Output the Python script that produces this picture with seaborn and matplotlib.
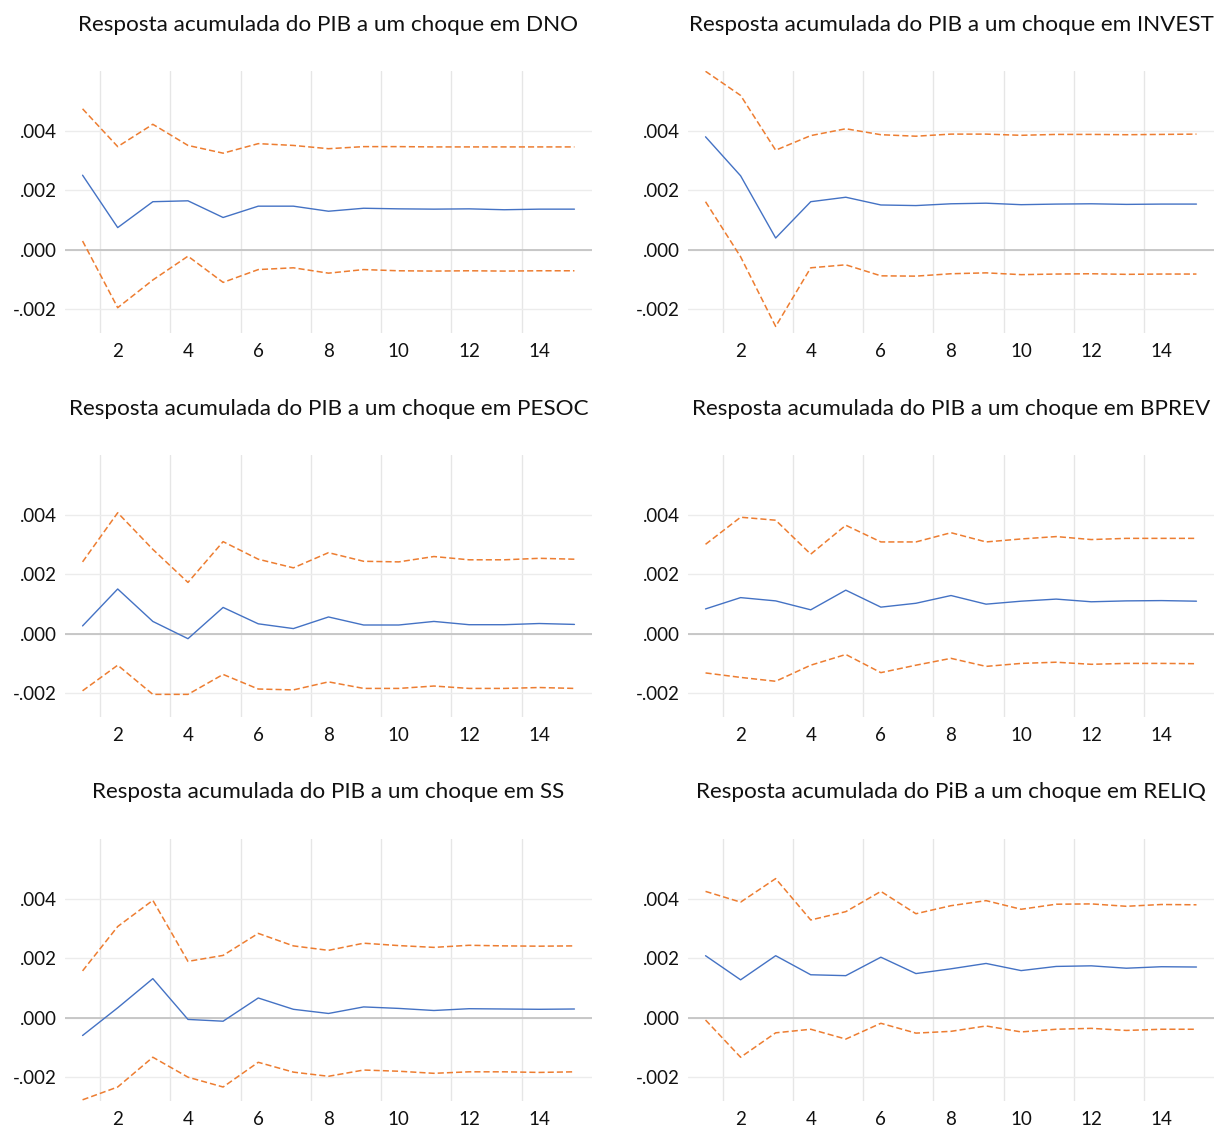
import numpy as np
import pandas as pd
import matplotlib
matplotlib.use("Agg")
import matplotlib.pyplot as plt
import seaborn as sns
from matplotlib.ticker import FuncFormatter

periods = list(range(1, 16))

shocks = ["DNO", "INVEST", "PESOC", "BPREV", "SS", "RELIQ"]
titles = [
    "Resposta acumulada do PIB a um choque em DNO",
    "Resposta acumulada do PIB a um choque em INVEST",
    "Resposta acumulada do PIB a um choque em PESOC",
    "Resposta acumulada do PIB a um choque em BPREV",
    "Resposta acumulada do PIB a um choque em SS",
    "Resposta acumulada do PiB a um choque em RELIQ",
]

# values in units of 0.001
dno_resp = [2.50, 0.74, 1.61, 1.64, 1.08, 1.46, 1.46, 1.29, 1.39, 1.37, 1.36, 1.37, 1.34, 1.36, 1.36]
dno_upper = [4.73, 3.46, 4.21, 3.50, 3.24, 3.56, 3.50, 3.39, 3.46, 3.46, 3.45, 3.45, 3.45, 3.45, 3.45]
dno_lower = [0.29, -1.95, -1.02, -0.22, -1.10, -0.67, -0.61, -0.79, -0.67, -0.71, -0.72, -0.71, -0.72, -0.71, -0.71]

invest_resp = [3.79, 2.48, 0.39, 1.61, 1.76, 1.50, 1.48, 1.54, 1.56, 1.51, 1.53, 1.54, 1.52, 1.53, 1.53]
invest_upper = [5.99, 5.18, 3.34, 3.83, 4.06, 3.86, 3.81, 3.88, 3.88, 3.84, 3.87, 3.87, 3.86, 3.87, 3.88]
invest_lower = [1.61, -0.24, -2.58, -0.61, -0.51, -0.88, -0.89, -0.81, -0.78, -0.84, -0.82, -0.81, -0.83, -0.82, -0.82]

pesoc_resp = [0.26, 1.50, 0.41, -0.17, 0.88, 0.33, 0.17, 0.56, 0.29, 0.29, 0.41, 0.30, 0.30, 0.34, 0.31]
pesoc_upper = [2.41, 4.06, 2.83, 1.72, 3.09, 2.50, 2.21, 2.72, 2.43, 2.41, 2.59, 2.48, 2.48, 2.53, 2.50]
pesoc_lower = [-1.92, -1.06, -2.04, -2.04, -1.37, -1.86, -1.89, -1.62, -1.84, -1.84, -1.76, -1.84, -1.84, -1.81, -1.84]

bprev_resp = [0.83, 1.21, 1.10, 0.80, 1.46, 0.89, 1.02, 1.28, 0.99, 1.09, 1.16, 1.07, 1.10, 1.11, 1.09]
bprev_upper = [3.00, 3.91, 3.81, 2.67, 3.64, 3.08, 3.08, 3.39, 3.08, 3.18, 3.26, 3.16, 3.20, 3.20, 3.20]
bprev_lower = [-1.32, -1.47, -1.60, -1.06, -0.70, -1.31, -1.06, -0.83, -1.10, -1.00, -0.96, -1.03, -1.00, -1.00, -1.01]

ss_resp = [-0.60, 0.33, 1.31, -0.06, -0.12, 0.66, 0.28, 0.14, 0.36, 0.31, 0.24, 0.30, 0.29, 0.28, 0.29]
ss_upper = [1.57, 3.06, 3.94, 1.89, 2.09, 2.83, 2.41, 2.26, 2.50, 2.42, 2.36, 2.43, 2.41, 2.40, 2.41]
ss_lower = [-2.76, -2.33, -1.33, -2.00, -2.33, -1.50, -1.83, -1.97, -1.76, -1.80, -1.87, -1.82, -1.82, -1.84, -1.82]

reliq_resp = [2.08, 1.27, 2.08, 1.44, 1.41, 2.03, 1.48, 1.64, 1.82, 1.58, 1.72, 1.74, 1.66, 1.71, 1.70]
reliq_upper = [4.24, 3.88, 4.67, 3.28, 3.56, 4.24, 3.49, 3.76, 3.93, 3.64, 3.81, 3.82, 3.74, 3.80, 3.79]
reliq_lower = [-0.08, -1.33, -0.51, -0.39, -0.72, -0.19, -0.52, -0.46, -0.28, -0.48, -0.39, -0.36, -0.43, -0.39, -0.39]

series = [
    (dno_resp, dno_upper, dno_lower),
    (invest_resp, invest_upper, invest_lower),
    (pesoc_resp, pesoc_upper, pesoc_lower),
    (bprev_resp, bprev_upper, bprev_lower),
    (ss_resp, ss_upper, ss_lower),
    (reliq_resp, reliq_upper, reliq_lower),
]

sns.set_style("white")
plt.rcParams["font.family"] = ["Lato", "DejaVu Sans"]

W, H = 1216, 1128
fig = plt.figure(figsize=(W / 100, H / 100), dpi=100)

col_lr = [(65, 592), (688, 1214)]
row_tb = [(71, 333), (455, 717), (839, 1101)]
title_y = [25, 409, 792]

blue = "#4472C4"
orange = "#ED7D31"
fmt = FuncFormatter(lambda v, p: ("-" if v < -1e-12 else "") + f"{abs(v):.3f}"[1:])

for i, (resp, upper, lower) in enumerate(series):
    r, c = divmod(i, 2)
    l, rr = col_lr[c]
    t, b = row_tb[r]
    ax = fig.add_axes([l / W, 1 - b / H, (rr - l) / W, (b - t) / H])
    df = pd.DataFrame({"periodo": periods,
                       "resp": np.array(resp) / 1000,
                       "upper": np.array(upper) / 1000,
                       "lower": np.array(lower) / 1000})
    sns.lineplot(data=df, x="periodo", y="upper", ax=ax, color=orange, lw=1.1, linestyle=(0, (4, 2)))
    sns.lineplot(data=df, x="periodo", y="lower", ax=ax, color=orange, lw=1.1, linestyle=(0, (4, 2)))
    sns.lineplot(data=df, x="periodo", y="resp", ax=ax, color=blue, lw=1.0)
    ax.set_xlim(0.5, 15.5)
    ax.set_ylim(-0.0028, 0.006)
    ax.set_xticks(range(2, 15, 2))
    ax.set_xticks(np.arange(1.5, 14, 2), minor=True)
    ax.set_yticks([-0.002, 0.0, 0.002, 0.004])
    ax.yaxis.set_major_formatter(fmt)
    ax.grid(False)
    ax.grid(True, axis="x", which="minor", color="#e6e6e6", lw=1)
    ax.grid(True, axis="y", which="major", color="#ececec", lw=1)
    ax.axhline(0, color="#c4c4c4", lw=1.3, zorder=1)
    ax.tick_params(which="both", length=0, labelsize=13.5, colors="#111111", pad=6)
    ax.tick_params(axis="x", pad=7)
    ax.set_xlabel("")
    ax.set_ylabel("")
    for s in ax.spines.values():
        s.set_visible(False)
    fig.text((l + rr) / 2 / W, 1 - title_y[r] / H, titles[i], ha="center", va="center",
             fontsize=16.2, color="#111111")

fig.savefig("out.png", dpi=100)
